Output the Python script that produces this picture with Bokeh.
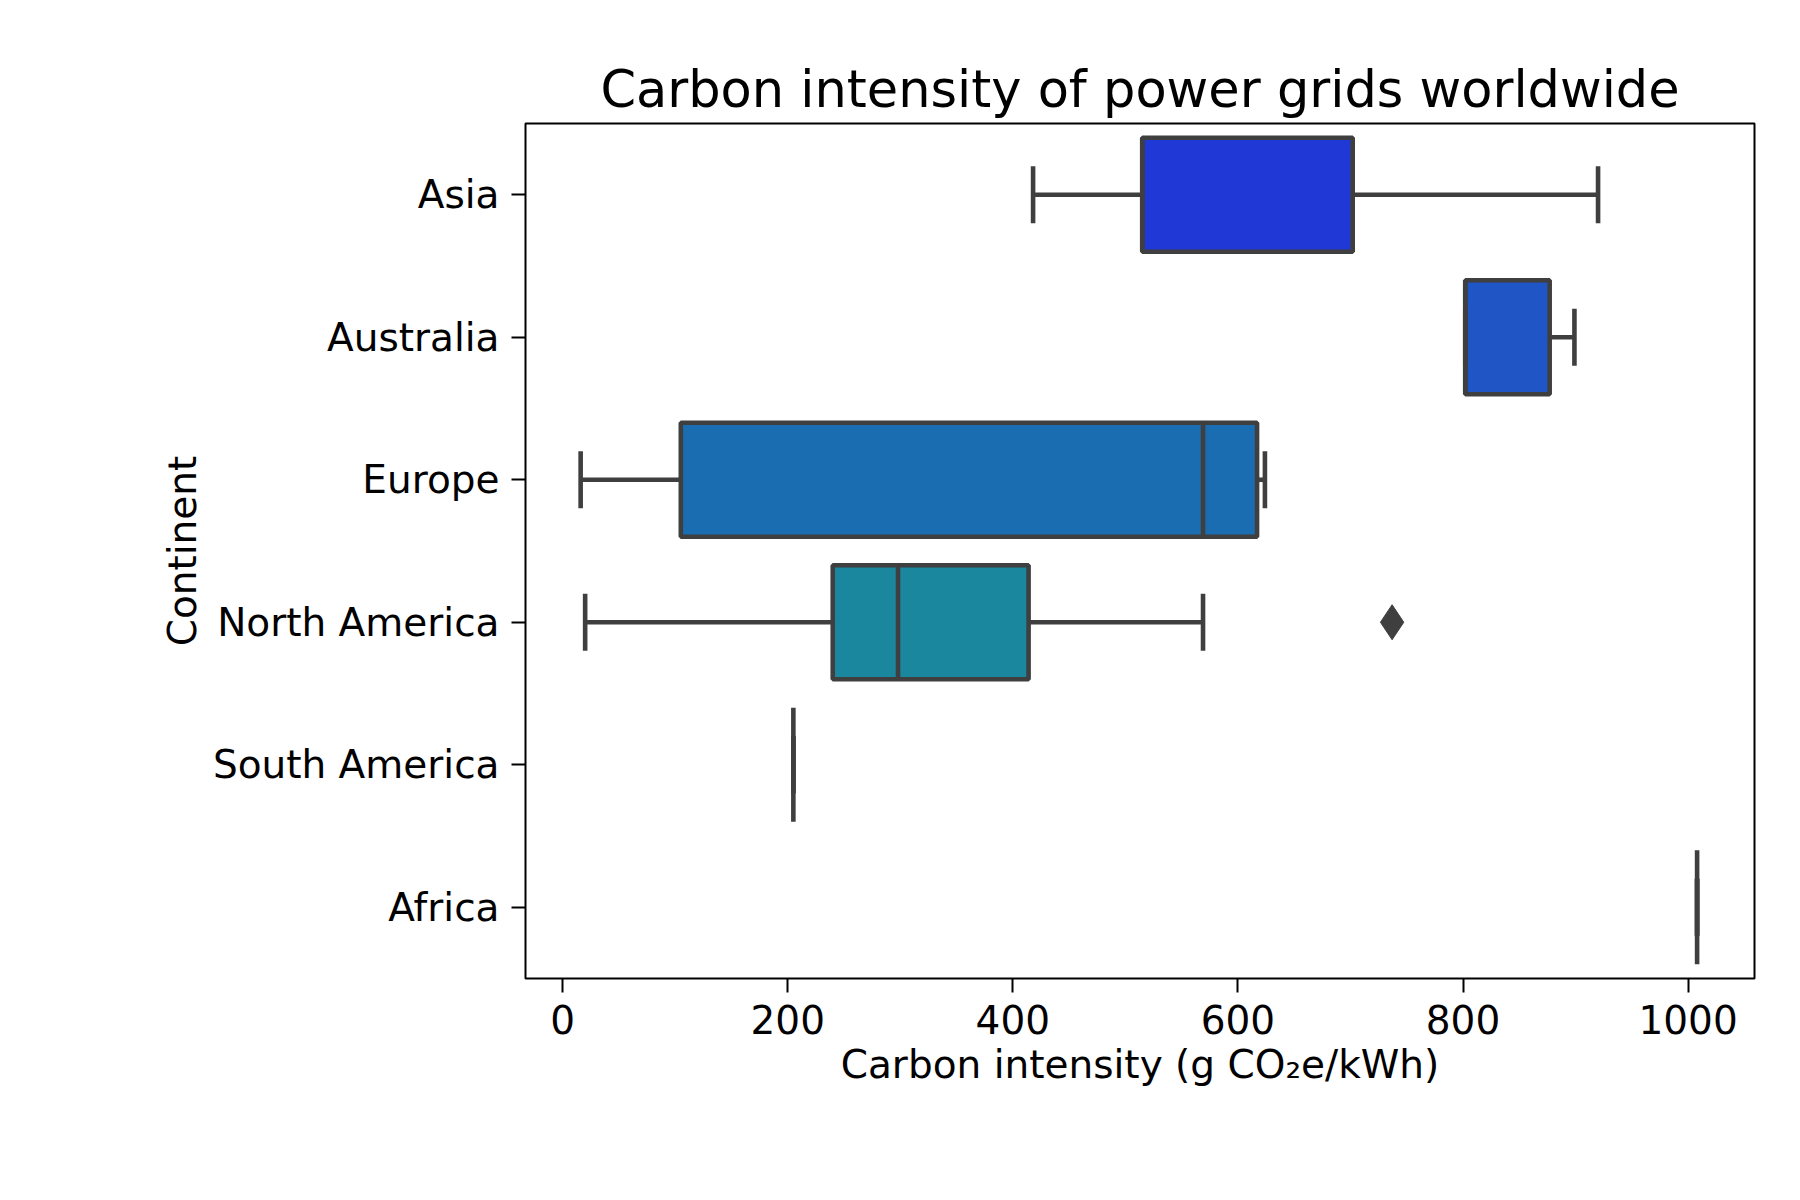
from bokeh.plotting import figure
from bokeh.models import FactorRange, Range1d
from bokeh.embed import file_html
from bokeh.resources import INLINE

continents = ["Asia", "Australia", "Europe", "North America", "South America", "Africa"]
wlo = [418, 802, 16, 20, 205, 1008]
q1 = [515, 802, 105, 240, 205, 1008]
med = [515, 802, 569, 298, 205, 1008]
q3 = [702, 877, 617, 414, 205, 1008]
whi = [920, 899, 624, 569, 205, 1008]
colors = ["#1f38d6", "#1f55c4", "#1a6db0", "#1a879f", "#1a9f8f", "#2aa070"]
out_cat = ["North America"]
out_val = [737]

p = figure(width=1784, height=1184, output_backend="svg", toolbar_location=None,
           y_range=FactorRange(factors=continents[::-1]), x_range=Range1d(-33, 1059),
           min_border_left=525, min_border_right=30, min_border_top=123, min_border_bottom=206)
p.title.text = "Carbon intensity of power grids worldwide"
p.title.text_font = "DejaVu Sans"; p.title.text_font_size = "51px"; p.title.text_font_style = "normal"
p.title.text_color = "black"
p.title.align = "center"; p.title.offset = 0
edge = "#3f3f3f"
lw = 4.6
for i, c in enumerate(continents):
    if q3[i] > q1[i]:
        p.hbar(y=[c], left=[q1[i]], right=[q3[i]], height=0.8, fill_color=colors[i],
               line_color=edge, line_width=lw)
    p.segment(x0=[wlo[i]], y0=[c], x1=[q1[i]], y1=[c], line_color=edge, line_width=lw)
    p.segment(x0=[q3[i]], y0=[c], x1=[whi[i]], y1=[c], line_color=edge, line_width=lw)
    for xv in (wlo[i], whi[i]):
        p.segment(x0=[xv], y0=[(c, -0.2)], x1=[xv], y1=[(c, 0.2)], line_color=edge, line_width=lw)
    p.segment(x0=[med[i]], y0=[(c, -0.4)], x1=[med[i]], y1=[(c, 0.4)], line_color=edge, line_width=lw)
p.scatter(x=out_val, y=out_cat, marker="diamond", size=35, fill_color=edge, line_color=edge)

p.xgrid.visible = False; p.ygrid.visible = False
p.outline_line_color = "black"; p.outline_line_width = 2
p.xaxis.ticker = [0, 200, 400, 600, 800, 1000]
p.xaxis.minor_tick_line_color = None
for ax in (p.xaxis, p.yaxis):
    ax.axis_line_color = None
    ax.major_label_text_font = "DejaVu Sans"; ax.major_label_text_font_size = "39px"
    ax.major_label_text_color = "black"
    ax.axis_label_text_font = "DejaVu Sans"; ax.axis_label_text_font_size = "39px"
    ax.axis_label_text_font_style = "normal"; ax.axis_label_text_color = "black"
    ax.major_tick_line_width = 2; ax.major_tick_out = 14; ax.major_tick_in = 0
    ax.major_tick_line_color = "black"
p.xaxis.axis_label = "Carbon intensity (g CO₂e/kWh)"
p.yaxis.axis_label = "Continent"
p.xaxis.major_label_standoff = 12
p.yaxis.major_label_standoff = 12

open("out.html", "w").write(file_html(p, INLINE))
